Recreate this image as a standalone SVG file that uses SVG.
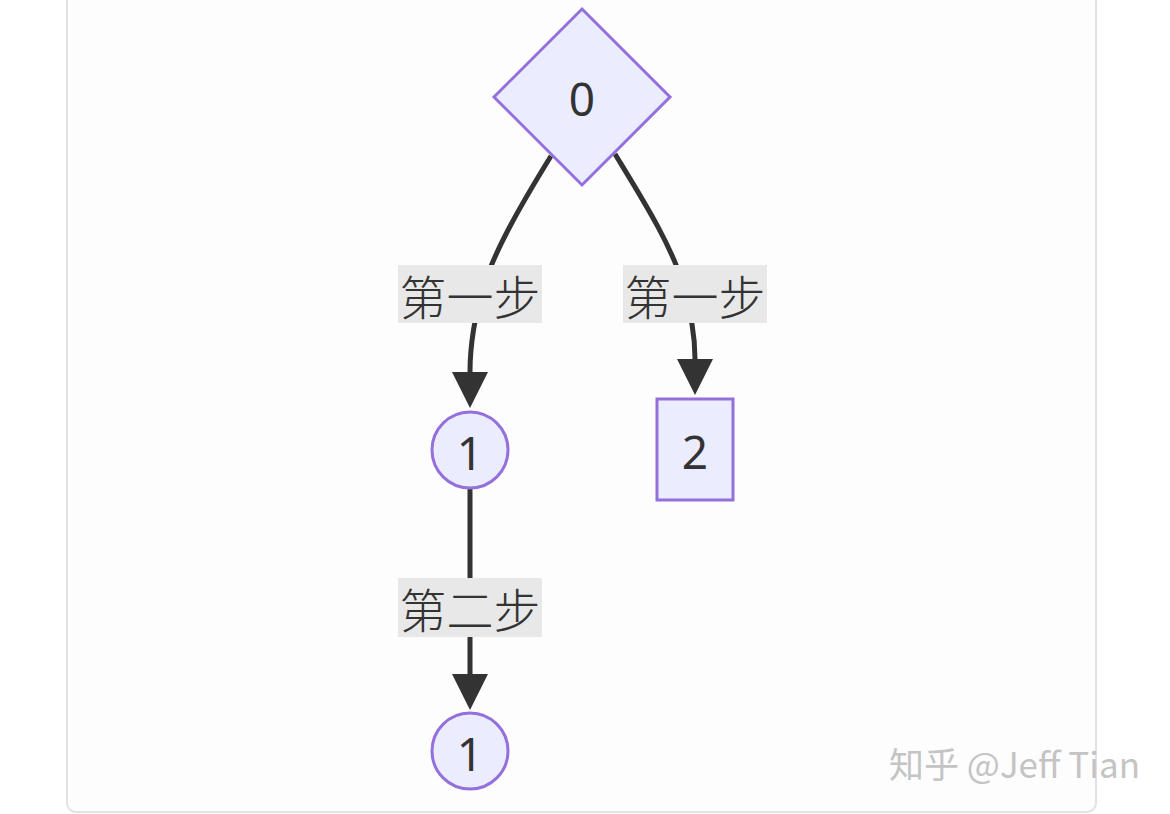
<svg xmlns="http://www.w3.org/2000/svg" width="1170" height="814" viewBox="0 0 1170 814">
<defs>
<style>
.node{fill:#ECECFF;stroke:#9370DB;stroke-width:3}
.lbl{font-family:"Noto Sans","Noto Sans CJK SC",sans-serif;font-size:46px;fill:#333;text-anchor:middle;dominant-baseline:central}
.edge{fill:none;stroke:#333;stroke-width:5}
.ebg{fill:#e8e8e8}
.etext{font-family:"Noto Sans CJK SC","Noto Sans",sans-serif;font-size:47px;font-weight:300;fill:#333;text-anchor:middle;dominant-baseline:central}
</style>
<marker id="arrow" viewBox="0 0 10 10" refX="0" refY="5" markerWidth="38" markerHeight="36" markerUnits="userSpaceOnUse" orient="auto">
<path d="M0,0 L10,5 L0,10 z" fill="#333"/>
</marker>
</defs>
<rect x="0" y="0" width="1170" height="814" fill="#ffffff"/>
<rect x="67" y="-12" width="1029" height="824" rx="9" fill="#fdfdfd" stroke="#e2e2e2" stroke-width="2"/>
<g id="connectors">
<path class="edge" d="M551,156 C522,203 496,248 484,285 C475,315 470,345 470,372" marker-end="url(#arrow)"/>
<path class="edge" d="M615,154 C643,200 672,246 683,285 C691,315 695,335 695,359" marker-end="url(#arrow)"/>
<path class="edge" d="M470,488 L470,674" marker-end="url(#arrow)"/>
</g>
<g id="label-0-1">
<rect class="ebg" x="398" y="265" width="144" height="58"/>
<text class="etext" x="470" y="294">第一步</text>
</g>
<g id="label-0-2">
<rect class="ebg" x="623" y="265" width="144" height="58"/>
<text class="etext" x="695" y="294">第一步</text>
</g>
<g id="label-1-1b">
<rect class="ebg" x="398" y="578" width="144" height="59"/>
<text class="etext" x="470" y="607">第二步</text>
</g>
<g id="node-0">
<polygon class="node" points="582,9 670,97 582,185 494,97"/>
<text class="lbl" x="582" y="98">0</text>
</g>
<g id="node-1">
<circle class="node" cx="470" cy="450" r="38"/>
<text class="lbl" x="470" y="452">1</text>
</g>
<g id="node-2">
<rect class="node" x="657" y="399" width="76" height="101"/>
<text class="lbl" x="695" y="451">2</text>
</g>
<g id="node-1b">
<circle class="node" cx="470" cy="751" r="38"/>
<text class="lbl" x="470" y="753">1</text>
</g>
<text x="1140" y="778" text-anchor="end" font-family="Noto Sans CJK SC, Noto Sans, sans-serif" font-size="35" fill="#c4c4c4">知乎 @Jeff Tian</text>
</svg>
